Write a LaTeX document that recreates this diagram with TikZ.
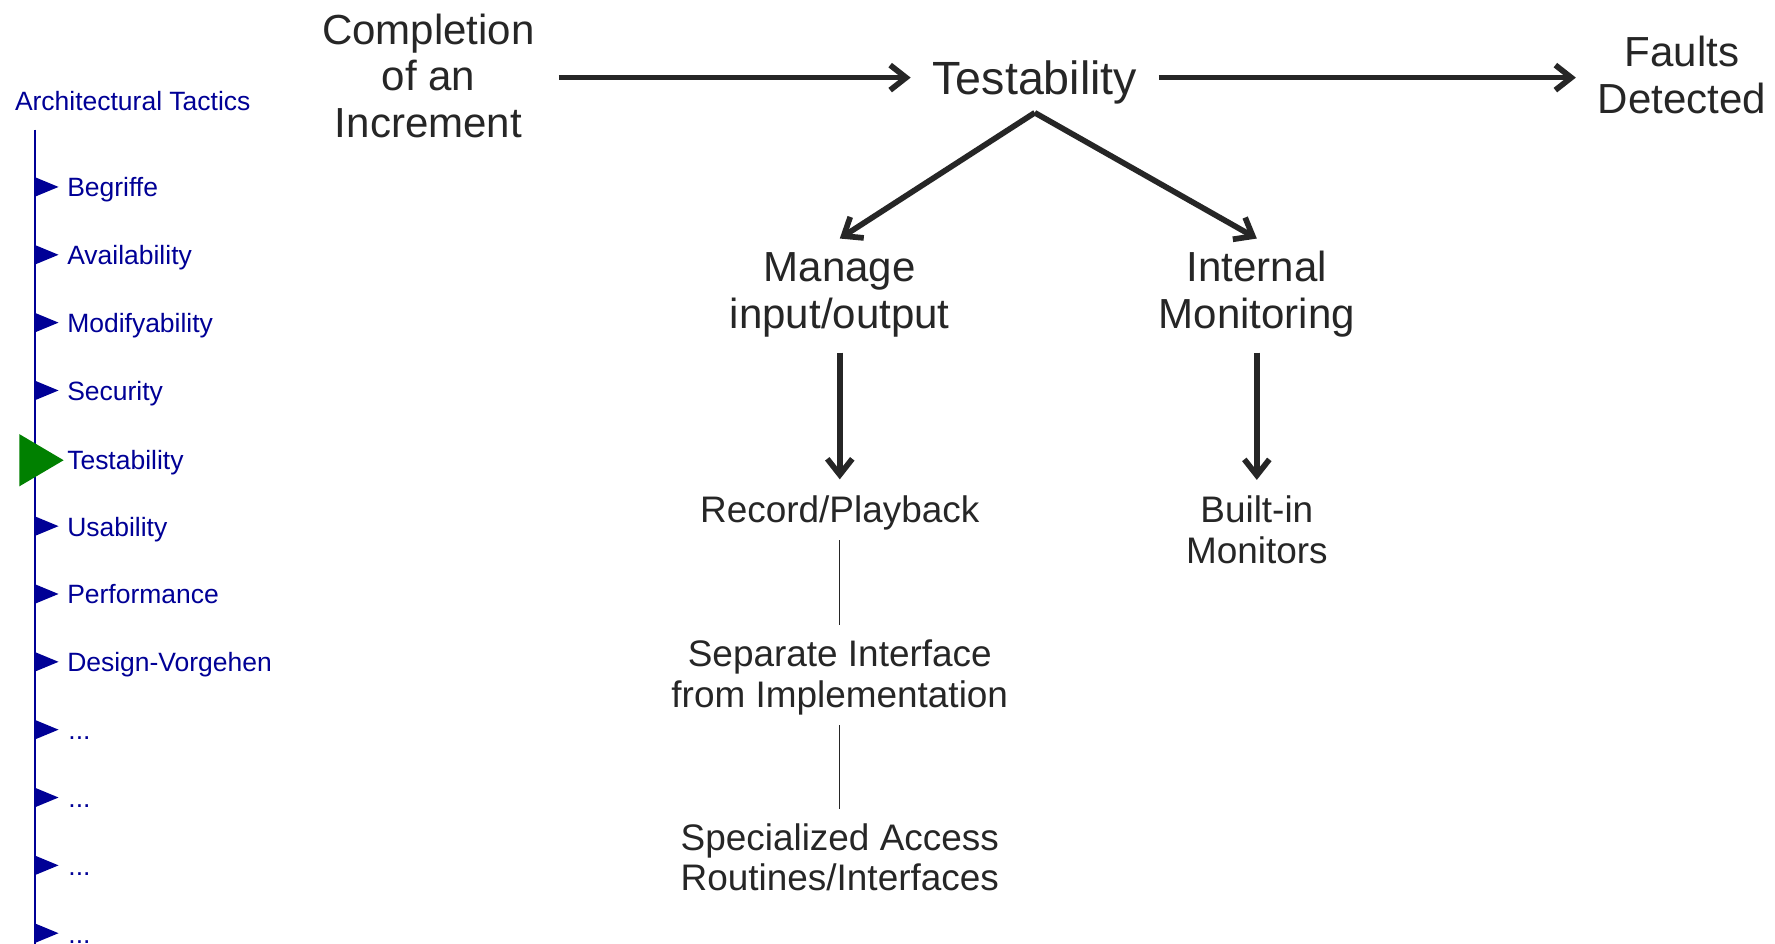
\documentclass[tikz,border=0pt]{standalone}
\usepackage{fontspec}
\setmainfont{Liberation Sans}
\usetikzlibrary{arrows.meta}
\definecolor{navyc}{RGB}{0,0,150}
\definecolor{greenc}{RGB}{0,128,0}
\definecolor{inkc}{RGB}{38,38,38}
\newcommand{\mlines}[1]{\begin{tabular}[t]{@{}c@{}}#1\end{tabular}}
\begin{document}
\begin{tikzpicture}[x=1pt,y=-1pt,
  big/.style={font=\fontsize{37}{41}\selectfont, text=inkc, inner xsep=0pt, inner ysep=9pt, anchor=base},
  small/.style={font=\fontsize{32.5}{35.7}\selectfont, text=inkc, inner sep=5pt, anchor=base},
  arr/.style={draw=inkc, line width=5pt, -{Straight Barb[length=14pt,width=22pt]}},
  thin/.style={draw=inkc, line width=1.2pt},
  navtext/.style={font=\fontsize{23.3}{26}\selectfont, text=navyc, inner sep=0pt, anchor=base west},
]
\fill[white] (0,0) rectangle (1562,830.7);
\useasboundingbox (0,0) rectangle (1562,830.7);

% sidebar
\draw[navyc, line width=2pt] (31,114) -- (31,845);
\foreach \k in {0,1,2,3,5,6,7,8,9,10,11}{
  \pgfmathsetmacro{\cy}{164.5+59.7*\k}
  \fill[navyc] (31,\cy-8.5) -- (51.5,\cy) -- (31,\cy+8.5) -- cycle;
}
\fill[greenc] (17,382) -- (56,405) -- (17,428) -- cycle;
\node[navtext] (title) at (13,97) {Architectural Tactics};
\node[navtext] (n0) at (59,173.3) {Begriffe};
\node[navtext] (n1) at (59,233.0) {Availability};
\node[navtext] (n2) at (59,292.7) {Modifyability};
\node[navtext] (n3) at (59,352.4) {Security};
\node[navtext] (n4) at (59,413.5) {Testability};
\node[navtext] (n5) at (59,471.8) {Usability};
\node[navtext] (n6) at (59,531.5) {Performance};
\node[navtext] (n7) at (59,591.2) {Design-Vorgehen};
\node[navtext] (n8) at (60,650.9) {...};
\node[navtext] (n9) at (60,710.6) {...};
\node[navtext] (n10) at (60,770.3) {...};
\node[navtext] (n11) at (60,830.0) {...};

% main diagram
\node[big, inner xsep=21pt] (compl) at (377,39) {\mlines{Completion\\of an\\Increment}};
\node[font=\fontsize{41}{45}\selectfont, text=inkc, text height=29.4pt, text depth=0pt, inner xsep=19pt, inner ysep=16pt] (test) at (910.6,68.3) {Testability};
\node[big, inner xsep=19pt] (faults) at (1480,58.7) {\mlines{Faults\\Detected}};
\node[big] (manage) at (739,247.8) {\mlines{Manage\\input/output}};
\node[big] (internal) at (1106,247.8) {\mlines{Internal\\Monitoring}};
\node[small] (record) at (739,459.5) {\mlines{Record/Playback}};
\node[small] (builtin) at (1106,460) {\mlines{Built-in\\Monitors}};
\node[small] (sep) at (739,586.5) {\mlines{Separate Interface\\from Implementation}};
\node[small] (spec) at (739,748.3) {\mlines{Specialized Access\\Routines/Interfaces}};

\draw[arr] (compl.east |- test.west) -- (test.west);
\draw[arr] (test.east) -- (test.east -| faults.west);
\draw[arr] (test.south) -- (manage.north);
\draw[arr] (test.south) -- (internal.north);
\draw[arr, shorten >=7.5pt] (manage.south) -- (record.north);
\draw[arr, shorten >=7.5pt] (internal.south) -- (builtin.north);
\draw[thin, shorten >=6.5pt] (record.south) -- (sep.north);
\draw[thin, shorten >=6.5pt] (sep.south) -- (spec.north);
\end{tikzpicture}
\end{document}
